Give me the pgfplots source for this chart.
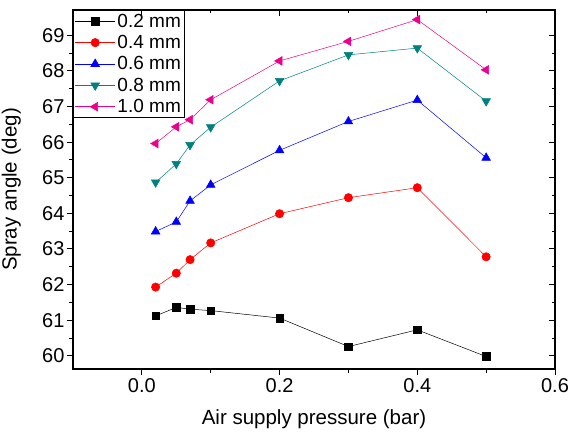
\documentclass[border=0pt]{standalone}
\usepackage{pgfplots}
\pgfplotsset{compat=1.18}
\usepackage{fontspec}
\setmainfont{Liberation Sans}
\definecolor{dcyan}{RGB}{0,128,128}
\begin{document}
\begin{tikzpicture}
\pgfplotsset{
  myframe/.style={
    scale only axis, width=482pt, height=359pt,
    xmin=-0.1, xmax=0.6, ymin=59.63, ymax=69.71,
    xtick={0,0.2,0.4,0.6}, ytick={60,61,...,69},
    minor x tick num=1, minor y tick num=1,
    axis line style={line width=1.1pt},
    major tick length=6pt, minor tick length=3.5pt,
    every tick/.style={black, line width=1pt},
    /pgf/number format/assume math mode=true,
  }
}
\begin{axis}[myframe,
    xtick pos=left, ytick pos=left, tick align=outside,
    ticklabel style={font=\fontsize{20}{22}\selectfont},
    yticklabel style={xshift=1pt},
    xticklabel style={/pgf/number format/fixed, /pgf/number format/precision=1, /pgf/number format/fixed zerofill},
    xlabel={Air supply pressure (bar)}, ylabel={Spray angle (deg)},
    label style={font=\fontsize{20.5}{22}\selectfont},
    xlabel style={at={(axis description cs:0.5,-0.14)}, anchor=center},
    ylabel style={at={(axis description cs:-0.128,0.5)}, anchor=center},
    legend style={at={(0,1)}, anchor=north west, draw=black, line width=0.8pt, fill=white,
      font=\fontsize{19}{21}\selectfont, inner sep=1.5pt, row sep=2.6pt, cells={anchor=west}},
    legend image code/.code={\draw[mark repeat=2,mark phase=2,line width=0.6pt] plot coordinates {(0pt,0pt)(20pt,0pt)(40pt,0pt)};},
  ]
\addplot[black, line width=0.5pt, mark=square*, mark size=3.8pt, mark options={solid}] coordinates {
(0.02,61.12)(0.05,61.36)(0.07,61.31)(0.1,61.27)(0.2,61.06)(0.3,60.26)(0.4,60.73)(0.5,59.98)};
\addlegendentry{0.2 mm}
\addplot[red, line width=0.5pt, mark=*, mark size=4.2pt, mark options={solid}] coordinates {
(0.02,61.93)(0.05,62.32)(0.07,62.70)(0.1,63.17)(0.2,63.99)(0.3,64.44)(0.4,64.72)(0.5,62.78)};
\addlegendentry{0.4 mm}
\addplot[blue, line width=0.5pt, mark=triangle*, mark size=5pt, mark options={solid}] coordinates {
(0.02,63.49)(0.05,63.76)(0.07,64.35)(0.1,64.80)(0.2,65.77)(0.3,66.58)(0.4,67.18)(0.5,65.56)};
\addlegendentry{0.6 mm}
\addplot[dcyan, line width=0.5pt, mark=triangle*, mark size=5pt, mark options={solid, rotate=180}] coordinates {
(0.02,64.87)(0.05,65.39)(0.07,65.92)(0.1,66.42)(0.2,67.72)(0.3,68.45)(0.4,68.64)(0.5,67.15)};
\addlegendentry{0.8 mm}
\addplot[magenta, line width=0.5pt, mark=triangle*, mark size=5pt, mark options={solid, rotate=90}] coordinates {
(0.02,65.96)(0.05,66.43)(0.07,66.63)(0.1,67.19)(0.2,68.28)(0.3,68.83)(0.4,69.44)(0.5,68.03)};
\addlegendentry{1.0 mm}
\end{axis}
\begin{axis}[myframe,
    xtick pos=right, ytick pos=right, tick align=inside,
    xticklabels={}, yticklabels={}]
\end{axis}
\pgfresetboundingbox
\path[use as bounding box] ([shift={(-73pt,-67pt)}]current axis.south west) rectangle ([shift={(14pt,10pt)}]current axis.north east);
\end{tikzpicture}
\end{document}
